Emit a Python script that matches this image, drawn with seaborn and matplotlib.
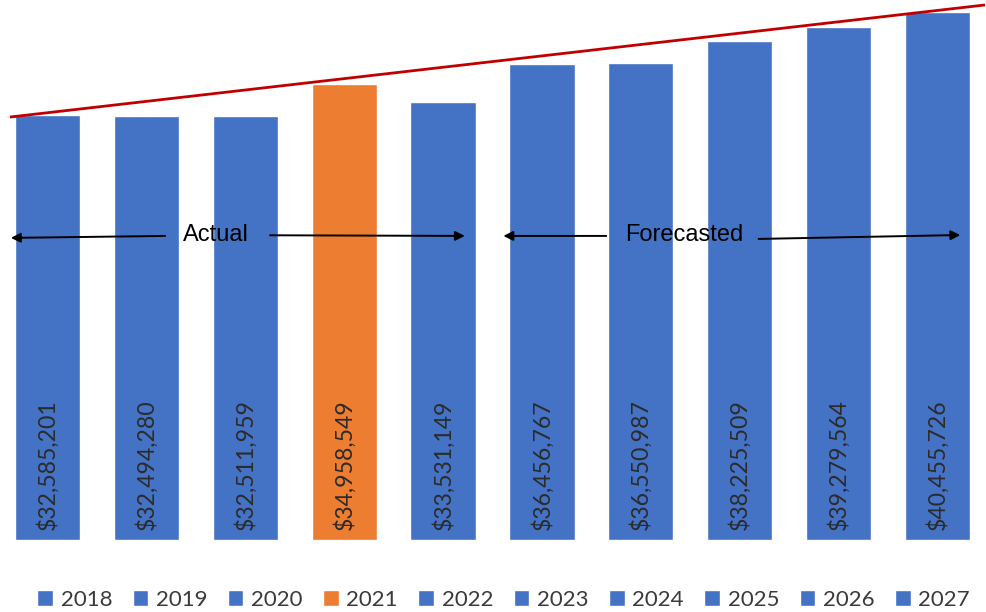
import matplotlib
matplotlib.use("Agg")
import matplotlib.pyplot as plt
import seaborn as sns
import pandas as pd

# Annual totals: 2018-2022 actual, 2023-2027 forecast
years = ["2018", "2019", "2020", "2021", "2022",
         "2023", "2024", "2025", "2026", "2027"]
values = [32585201, 32494280, 32511959, 34958549, 33531149,
          36456767, 36550987, 38225509, 39279564, 40455726]
highlight_year = "2021"

BLUE = "#4472C4"
ORANGE = "#ED7D31"
palette = {y: (ORANGE if y == highlight_year else BLUE) for y in years}

df = pd.DataFrame({"year": years, "value": values})

sns.set_theme(style="white")
plt.rcParams["font.family"] = ["Lato", "DejaVu Sans"]

fig = plt.figure(figsize=(9.86, 6.12), dpi=100)
ax = fig.add_axes([0, 0, 1, 1])

sns.barplot(data=df, x="year", y="value", hue="year", palette=palette,
            order=years, hue_order=years, width=0.66, saturation=1,
            dodge=False, legend=True, ax=ax)

ax.set_xlim(-0.48, 9.49)
ax.set_ylim(-5.52e6, 41.38e6)
ax.set_axis_off()

# Vertical value labels inside each bar
for i, v in enumerate(values):
    ax.text(i, 0.77e6, f"${v:,.0f}", rotation=90, ha="center", va="bottom",
            fontsize=16.6, color="#2b2b2b")

# Upward trend line across the bar tops
trend_x = [-0.38, 9.48]
trend_y = [32.41e6, 41.0e6]
ax.plot(trend_x, trend_y, color="#C00000", lw=2, solid_capstyle="butt")

# Period markers
arrow_kw = dict(arrowstyle="-|>", color="black", lw=1.4, mutation_scale=14,
                shrinkA=0, shrinkB=0)
ax.annotate("", xy=(-0.37, 23.15e6), xytext=(1.19, 23.3e6), arrowprops=arrow_kw)
ax.annotate("", xy=(4.22, 23.3e6), xytext=(2.25, 23.35e6), arrowprops=arrow_kw)
ax.annotate("", xy=(4.61, 23.3e6), xytext=(5.65, 23.3e6), arrowprops=arrow_kw)
ax.annotate("", xy=(9.23, 23.37e6), xytext=(7.19, 23.07e6), arrowprops=arrow_kw)

label_font = ["Liberation Sans", "DejaVu Sans"]
ax.text(1.70, 23.35e6, "Actual", ha="center", va="center", fontsize=17,
        color="black", family=label_font)
ax.text(6.44, 23.35e6, "Forecasted", ha="center", va="center", fontsize=17,
        color="black", family=label_font)

sns.move_legend(ax, "center", bbox_to_anchor=(0.5107, 0.02),
                bbox_transform=fig.transFigure, ncol=10, frameon=False,
                title=None, fontsize=16, handlelength=0.7, handleheight=0.7,
                handletextpad=0.35, columnspacing=0.92, borderpad=0)
for t in ax.get_legend().get_texts():
    t.set_color("#3a3a3a")

fig.savefig("out.png", dpi=100)
